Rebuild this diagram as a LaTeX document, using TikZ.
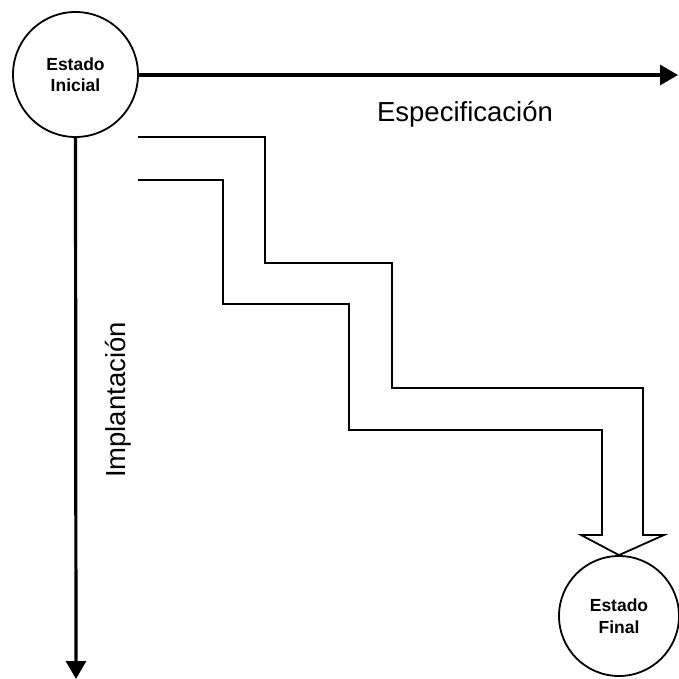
\documentclass[tikz,border=0pt]{standalone}
\usepackage{fontspec}
\setmainfont{Liberation Sans}
\usetikzlibrary{arrows.meta}
\begin{document}
\begin{tikzpicture}[x=1pt,y=-1pt,
  state/.style={draw,circle,line width=1.8pt,inner sep=0pt,align=center,
    font=\fontsize{17.5}{21.5}\selectfont\bfseries},
  axis/.style={line width=3.2pt,-{Triangle[width=20pt,length=18pt]}},
  axislabel/.style={font=\fontsize{27.5}{31}\selectfont},
  stairs/.style={line width=1.8pt,line join=miter}]
  \useasboundingbox (0,0) rectangle (678,679);
  % states
  \node[state,minimum size=125pt] (ini) at (75.5,74.5) {Estado\\Inicial};
  \node[state,minimum size=120pt] (fin) at (619,616) {Estado\\Final};
  % axes
  \coordinate (xend) at (678,75);
  \coordinate (yend) at (76,679);
  \draw[axis] (ini.east |- xend) -- (xend);
  \draw[axis] (ini.south) -- (yend);
  \node[axislabel] (spec) at (465,114) {Especificación};
  \node[axislabel,rotate=90] (impl) at (118,400) {Implantación};
  % stepped path leading to the final state
  \draw[stairs] (138,137) -- (265,137) -- (265,263) -- (392,263) -- (392,388)
    -- (643,388) -- (643,535) -- (664,535) -- (fin.north)
    -- (581,535) -- (602,535) -- (602,430) -- (349,430) -- (349,304)
    -- (223,304) -- (223,180) -- (138,180);
\end{tikzpicture}
\end{document}
